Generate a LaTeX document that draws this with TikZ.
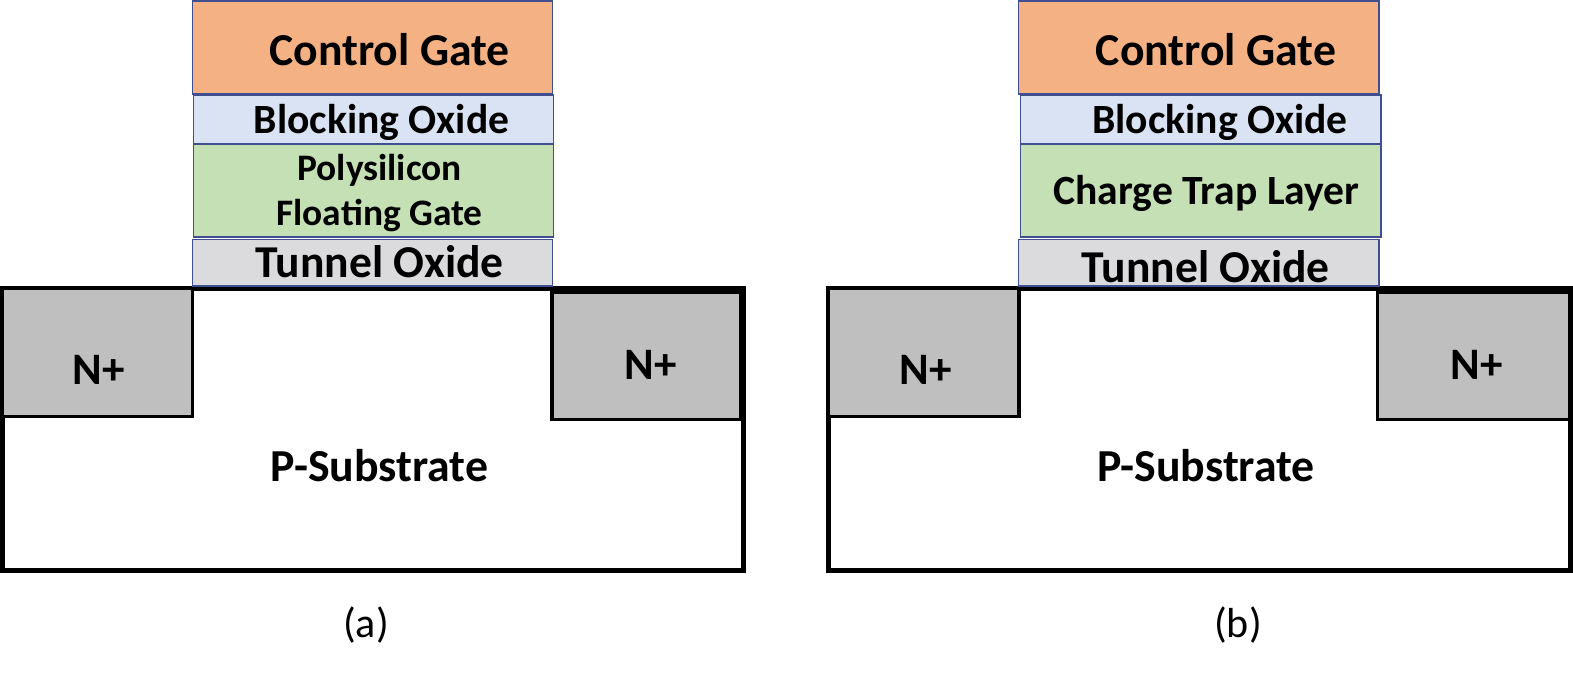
\documentclass[tikz,border=0pt]{standalone}
\usepackage{fontspec}
\setmainfont{Carlito}
\definecolor{layerblue}{HTML}{3F4F8F}
\definecolor{cgfill}{HTML}{F4B183}
\definecolor{bofill}{HTML}{DAE3F3}
\definecolor{fgfill}{HTML}{C5E0B4}
\definecolor{tofill}{HTML}{DBDBDE}
\definecolor{ngray}{HTML}{BFBFBF}
\newcommand{\fsz}[1]{\fontsize{#1}{#1}\selectfont}
\tikzset{
  layer/.style={draw=layerblue,line width=1.3pt},
  lbl/.style={text=black,inner sep=0pt},
  nplus/.style={fill=ngray,draw=black,line width=3.2pt},
  subs/.style={draw=black,line width=4.7pt,fill=white},
  topbar/.style={draw=black,line width=8pt},
  caption/.style={inner sep=0pt,text=black,font=\fsz{42}}
}
\begin{document}
\begin{tikzpicture}[x=1pt,y=-1pt]
\useasboundingbox (0,0) rectangle (1573,674);
% --- (a)
\draw[subs] (2.3,288.3) rectangle (743.5,570.6);
\draw[nplus] (2.3,288.3) rectangle (192.3,416.6);
\draw[nplus] (552,292) rectangle (741,419.6);
\draw[topbar] (550,290) -- (746,290);
\draw[layer,fill=cgfill] (192.5,1) rectangle (552.5,94);
\draw[layer,fill=bofill] (193.5,95) rectangle (553.5,143.5);
\draw[layer,fill=fgfill] (193.5,144.5) rectangle (553.5,237);
\draw[layer,fill=tofill] (192.5,239.5) rectangle (552.5,286);
\node[lbl,font=\bfseries\fsz{45.7}] (cga) at (389.5,50) {Control Gate};
\node[lbl,font=\bfseries\fsz{41.6}] (boa) at (381.5,122) {Blocking Oxide};
\node[lbl,font=\bfseries\fsz{37.4}] (pa) at (379.5,170.5) {Polysilicon};
\node[lbl,font=\bfseries\fsz{37.4}] (fa) at (379.5,215.5) {Floating Gate};
\node[lbl,font=\bfseries\fsz{45.6}] (toa) at (379.5,262) {Tunnel Oxide};
\node[lbl,font=\bfseries\fsz{45}] (na1) at (99,370) {N+};
\node[lbl,font=\bfseries\fsz{45}] (na2) at (650.5,365) {N+};
\node[lbl,font=\bfseries\fsz{45.8}] (pa2) at (379.5,466) {P-Substrate};
\node[caption] (capa) at (366,625) {(a)};
% --- (b)
\draw[subs] (828.4,288.3) rectangle (1570.6,570.6);
\draw[nplus] (828.4,288.3) rectangle (1019,416.6);
\draw[nplus] (1377.6,292) rectangle (1570,419.6);
\draw[topbar] (1376,290) -- (1573,290);
\draw[layer,fill=cgfill] (1018.5,1) rectangle (1379,94);
\draw[layer,fill=bofill] (1020.5,95) rectangle (1381,143.5);
\draw[layer,fill=fgfill] (1020.5,144.5) rectangle (1381,237);
\draw[layer,fill=tofill] (1018.5,239.5) rectangle (1379,286);
\node[lbl,font=\bfseries\fsz{45.7}] (cgb) at (1216,50) {Control Gate};
\node[lbl,font=\bfseries\fsz{41.6}] (bob) at (1220,122) {Blocking Oxide};
\node[lbl,font=\bfseries\fsz{41.6}] (ctb) at (1206.5,193) {Charge Trap Layer};
\node[lbl,font=\bfseries\fsz{45.6}] (tob) at (1205.5,267) {Tunnel Oxide};
\node[lbl,font=\bfseries\fsz{45}] (nb1) at (925.5,370) {N+};
\node[lbl,font=\bfseries\fsz{45}] (nb2) at (1476.5,365) {N+};
\node[lbl,font=\bfseries\fsz{45.8}] (pb2) at (1206,466) {P-Substrate};
\node[caption] (capb) at (1238,625) {(b)};
\end{tikzpicture}
\end{document}
